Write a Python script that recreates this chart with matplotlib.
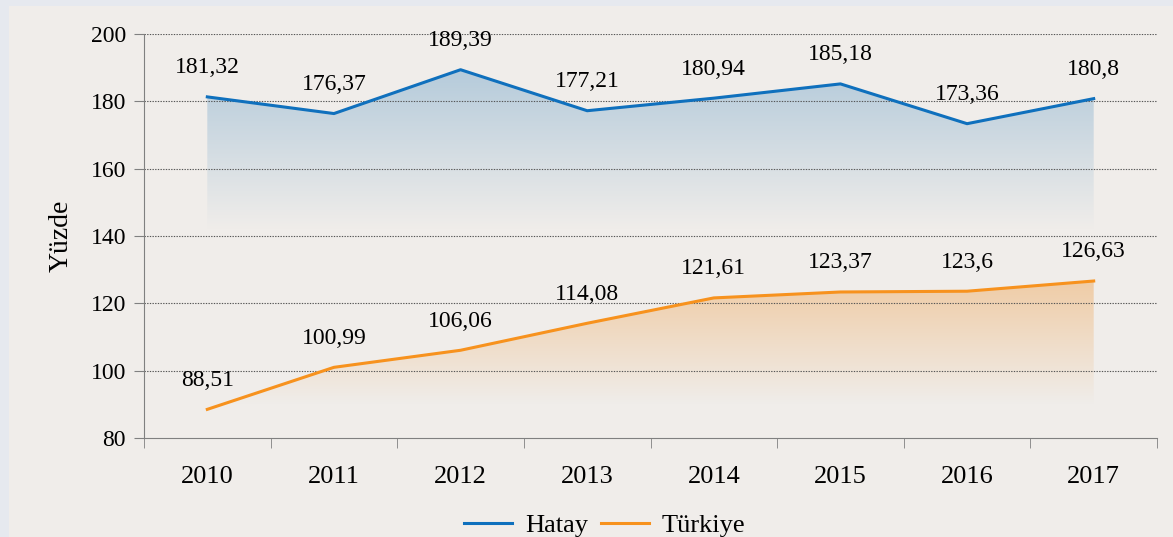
import matplotlib.pyplot as plt
import numpy as np
from matplotlib.patches import Rectangle, Polygon
from matplotlib.colors import to_rgb

years = ["2010", "2011", "2012", "2013", "2014", "2015", "2016", "2017"]
hatay = [181.32, 176.37, 189.39, 177.21, 180.94, 185.18, 173.36, 180.8]
turkiye = [88.51, 100.99, 106.06, 114.08, 121.61, 123.37, 123.6, 126.63]
hatay_labels = ["181,32", "176,37", "189,39", "177,21", "180,94", "185,18", "173,36", "180,8"]
turkiye_labels = ["88,51", "100,99", "106,06", "114,08", "121,61", "123,37", "123,6", "126,63"]

BLUE = "#0f70bd"
ORANGE = "#f7921e"
BG = "#f0edea"
BORDER = "#e6e9ef"

plt.rcParams['font.family'] = ['Liberation Serif', 'DejaVu Serif']

fig = plt.figure(figsize=(11.73, 5.37), dpi=100, facecolor=BORDER)
fig.patches.append(Rectangle((9 / 1173, 0), 1, 1 - 6 / 537, transform=fig.transFigure,
                             facecolor=BG, edgecolor="none", zorder=-10))

ax = fig.add_axes([144 / 1173, 1 - 438 / 537, (1157 - 144) / 1173, (438 - 34) / 537])
ax.set_facecolor("none")
x = np.arange(len(years))


def gradient_fill(ax, x, y, bottom, top_color, y_top, y_bot):
    # vertical gradient from top_color (at y_top) to background (at y_bot), clipped to area under line
    c1 = np.array(to_rgb(top_color))
    c0 = np.array(to_rgb(BG))
    t = np.linspace(0, 1, 256)[:, None]
    img = c1 * (1 - t) + c0 * t
    img = img[:, None, :]
    im = ax.imshow(img, extent=[x[0], x[-1], y_bot, y_top], aspect="auto",
                   origin="upper", zorder=1, interpolation="bilinear")
    verts = [(x[0], bottom)] + list(zip(x, y)) + [(x[-1], bottom)]
    poly = Polygon(verts, closed=True, facecolor="none", edgecolor="none")
    ax.add_patch(poly)
    im.set_clip_path(poly)


gradient_fill(ax, x, hatay, 142, "#b5cbdb", max(hatay), 142)
gradient_fill(ax, x, turkiye, 90, "#efcca6", max(turkiye), 90)

ax.plot(x, hatay, color=BLUE, lw=2.2, label="Hatay", zorder=3)
ax.plot(x, turkiye, color=ORANGE, lw=2.2, label="Türkiye", zorder=3)

for xi, v, s in zip(x, hatay, hatay_labels):
    ax.annotate(s, (xi, v), xytext=(0, 21), textcoords="offset points",
                ha="center", va="center", fontsize=17, zorder=4)
for xi, v, s in zip(x, turkiye, turkiye_labels):
    ax.annotate(s, (xi, v), xytext=(0, 21), textcoords="offset points",
                ha="center", va="center", fontsize=17, zorder=4)

ax.set_xlim(-0.5, len(years) - 0.5)
ax.set_ylim(80, 200)
ax.set_yticks(np.arange(80, 201, 20))
ax.set_xticks(x)
ax.set_xticklabels(years)
ax.set_xticks(np.arange(-0.5, len(years)), minor=True)
ax.tick_params(axis="x", which="major", length=0, pad=20, labelsize=19)
ax.tick_params(axis="x", which="minor", length=7, color="#808080", direction="out")
ax.tick_params(axis="y", length=7, color="#808080", labelsize=17, pad=6)

for yv in np.arange(100, 201, 20):
    ax.axhline(yv, color="#555555", lw=0.8, ls=(0, (1.2, 1.2)), zorder=2)

for s in ["top", "right"]:
    ax.spines[s].set_visible(False)
ax.spines["left"].set_color("#808080")
ax.spines["bottom"].set_color("#808080")
ax.spines["left"].set_zorder(5)

ax.set_ylabel("Yüzde", fontsize=20, labelpad=12)

fig.legend(loc="lower center", bbox_to_anchor=(605 / 1173, -0.045), ncol=2, frameon=False,
           fontsize=19, handlelength=1.8, columnspacing=0.5, handletextpad=0.5)

fig.savefig("out.png", dpi=100, facecolor=fig.get_facecolor())
